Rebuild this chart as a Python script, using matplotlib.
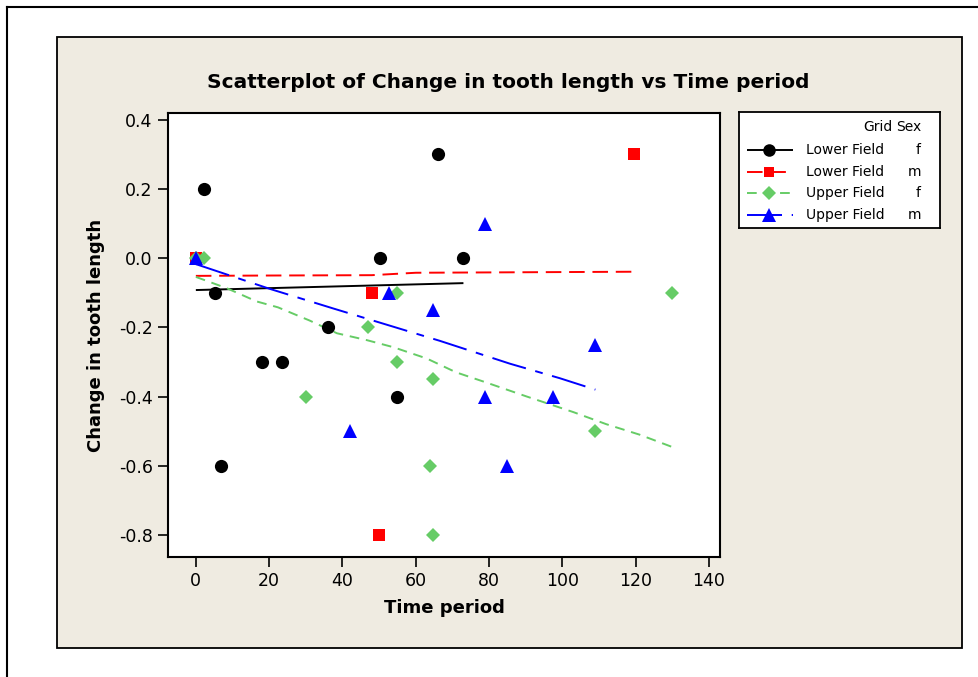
import matplotlib
matplotlib.use("Agg")
import matplotlib.pyplot as plt
from matplotlib.patches import Rectangle
from matplotlib.lines import Line2D

# Lower Field, f
lf_f_x = [0, 2.2, 5.2, 6.8, 18, 23.5, 36, 50.2, 54.9, 66, 73]
lf_f_y = [0.0, 0.2, -0.1, -0.6, -0.3, -0.3, -0.2, 0.0, -0.4, 0.3, 0.0]
lf_f_fit_x = [0, 73]
lf_f_fit_y = [-0.092, -0.072]

# Lower Field, m
lf_m_x = [0, 48, 50, 119.5]
lf_m_y = [0.0, -0.1, -0.8, 0.3]
lf_m_fit_x = [0, 20, 48, 60, 80, 100, 120]
lf_m_fit_y = [-0.051, -0.050, -0.049, -0.042, -0.041, -0.040, -0.039]

# Upper Field, f
uf_f_x = [0, 2.2, 30, 47, 55, 55, 64.7, 64, 64.7, 109, 130]
uf_f_y = [0.0, 0.0, -0.4, -0.2, -0.1, -0.3, -0.35, -0.6, -0.8, -0.5, -0.1]
uf_f_fit_x = [0, 8.5, 16.6, 22.4, 31, 38.5, 46.7, 53.8, 63, 71, 79.4, 90.3, 103, 112, 121, 130]
uf_f_fit_y = [-0.054, -0.087, -0.125, -0.142, -0.18, -0.217, -0.237, -0.257, -0.29,
              -0.33, -0.36, -0.40, -0.445, -0.48, -0.51, -0.546]

# Upper Field, m
uf_m_x = [0, 42, 52.7, 64.7, 79, 79, 85, 97.5, 109]
uf_m_y = [0.0, -0.5, -0.1, -0.15, 0.1, -0.4, -0.6, -0.4, -0.25]
uf_m_fit_x = [0, 20, 37.4, 66.6, 85.7, 99.3, 109]
uf_m_fit_y = [-0.017, -0.088, -0.145, -0.239, -0.305, -0.347, -0.38]

x_ticks = [0, 20, 40, 60, 80, 100, 120, 140]
y_ticks = [0.4, 0.2, 0.0, -0.2, -0.4, -0.6, -0.8]

groups = [
    ("Lower Field", "f", "black", "o", 9.5, (0, ()), lf_f_x, lf_f_y, lf_f_fit_x, lf_f_fit_y),
    ("Lower Field", "m", "#ff0000", "s", 8, (0, (8, 4)), lf_m_x, lf_m_y, lf_m_fit_x, lf_m_fit_y),
    ("Upper Field", "f", "#66cc66", "D", 7.5, (0, (5, 3.5)), uf_f_x, uf_f_y, uf_f_fit_x, uf_f_fit_y),
    ("Upper Field", "m", "#0000ff", "^", 10, (0, (18, 5, 4, 5)), uf_m_x, uf_m_y, uf_m_fit_x, uf_m_fit_y),
]

plt.rcParams['font.family'] = ['DejaVu Sans']

W, H = 979, 677
fig = plt.figure(figsize=(W / 100, H / 100), dpi=100)
fig.patch.set_facecolor("white")

# outer frame and beige panel
fig.add_artist(Line2D([7 / W, 7 / W], [0, 1 - 7 / H], color="black", lw=1.5))
fig.add_artist(Line2D([7 / W, 1], [1 - 7 / H, 1 - 7 / H], color="black", lw=1.5))
fig.add_artist(Rectangle((57 / W, 1 - 648 / H), 905 / W, 611 / H, facecolor="#efebe1",
                         edgecolor="black", lw=1.3, zorder=0))

ax = fig.add_axes([168 / W, 1 - 557 / H, 552 / W, 444 / H])
ax.set_facecolor("white")
for name, sex, col, mk, ms, ls, xs, ys, fx, fy in groups:
    ax.plot(xs, ys, linestyle="none", marker=mk, color=col, markersize=ms, mew=0, zorder=3)
    ax.plot(fx, fy, color=col, linestyle=ls, lw=1.4, zorder=2)

ax.set_xlim(-7.6, 143)
ax.set_ylim(-0.864, 0.42)
ax.set_xticks(x_ticks)
ax.set_yticks(y_ticks)
ax.set_yticklabels([f"{v:.1f}" for v in y_ticks])
ax.tick_params(direction="out", length=7, width=1.2, labelsize=12.5, pad=4)
for s in ax.spines.values():
    s.set_linewidth(1.5)
ax.set_xlabel("Time period", fontsize=13, fontweight="bold", labelpad=6)
ax.set_ylabel("Change in tooth length", fontsize=13, fontweight="bold", labelpad=10)

fig.text(508 / W, 1 - 82 / H, "Scatterplot of Change in tooth length vs Time period",
         ha="center", va="center", fontsize=14.5, fontweight="bold")

# legend box
lg = fig.add_axes([739 / W, 1 - 228 / H, 201 / W, 116 / H])
lg.set_xlim(0, 201)
lg.set_ylim(116, 0)
lg.set_xticks([])
lg.set_yticks([])
lg.set_facecolor("white")
for s in lg.spines.values():
    s.set_linewidth(1.3)
lg.text(154, 15, "Grid", ha="right", va="center", fontsize=10)
lg.text(182, 15, "Sex", ha="right", va="center", fontsize=10)
for i, (name, sex, col, mk, ms, ls, *_rest) in enumerate(groups):
    yy = 38 + i * 21.7
    lg.plot([8, 54], [yy, yy], color=col, linestyle=ls, lw=1.4)
    lg.plot([30], [yy], marker=mk, color=col, markersize=ms * 0.95, mew=0, linestyle="none")
    lg.text(67, yy, name, ha="left", va="center", fontsize=10)
    lg.text(182, yy, sex, ha="right", va="center", fontsize=10)

fig.savefig("out.png", dpi=100)
